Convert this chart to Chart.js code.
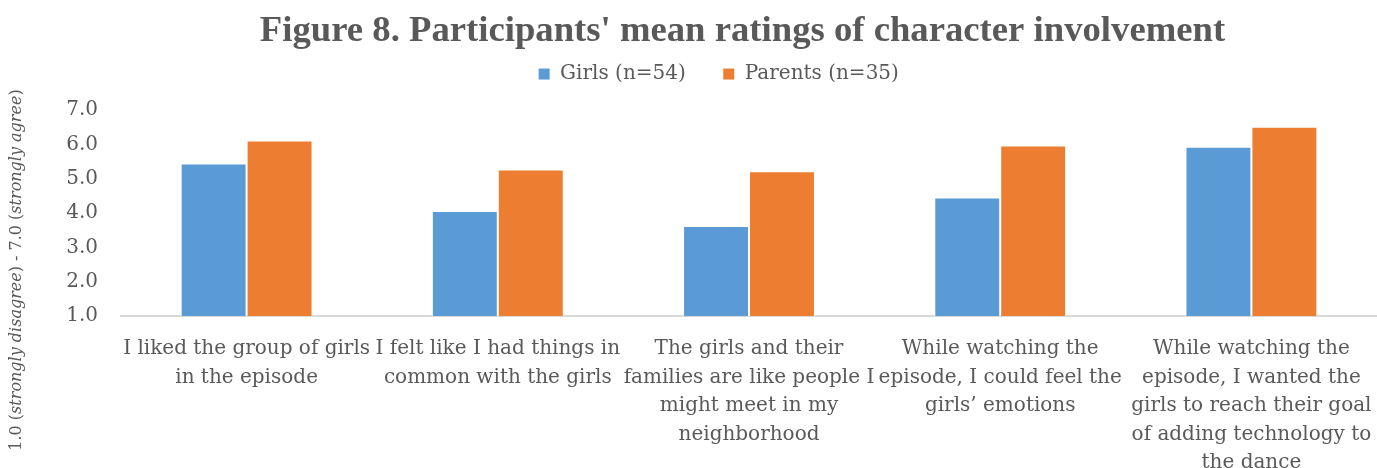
<!DOCTYPE html>
<html>
<head>
<meta charset="utf-8">
<script src="https://cdn.jsdelivr.net/npm/chart.js@4.4.1/dist/chart.umd.min.js"></script>
<style>
  html, body { margin: 0; padding: 0; background: #fff; }
  #wrap { width: 1377px; height: 468px; }
</style>
</head>
<body>
<div id="wrap"><canvas id="ratings-chart"></canvas></div>
<script>
const categories = [
  ['I liked the group of girls', 'in the episode'],
  ['I felt like I had things in', 'common with the girls'],
  ['The girls and their', 'families are like people I', 'might meet in my', 'neighborhood'],
  ['While watching the', 'episode, I could feel the', 'girls\u2019 emotions'],
  ['While watching the', 'episode, I wanted the', 'girls to reach their goal', 'of adding technology to', 'the dance']
];
const girls = [5.44, 4.06, 3.62, 4.45, 5.93];
const parents = [6.11, 5.27, 5.22, 5.97, 6.51];
const seriesNames = ['Girls (n=54)', 'Parents (n=35)'];

const textColor = '#595959';
const serif = "'DejaVu Serif', serif";

// y axis title has italic parts, so draw it by hand
const yTitleParts = [
  ['1.0 (', false],
  ['strongly disagree', true],
  [') - 7.0 (', false],
  ['strongly agree', true],
  [')', false]
];

const yTitlePlugin = {
  id: 'yTitle',
  afterDraw(chart) {
    const c = chart.ctx;
    const size = 16;
    const fonts = p => p[1] ? 'italic ' + size + 'px ' + serif : size + 'px ' + serif;
    let total = 0;
    for (const p of yTitleParts) { c.font = fonts(p); total += c.measureText(p[0]).width; }
    c.save();
    c.translate(17, 270);
    c.rotate(-Math.PI / 2);
    c.fillStyle = textColor;
    c.textBaseline = 'middle';
    c.textAlign = 'left';
    let x = -total / 2;
    for (const p of yTitleParts) {
      c.font = fonts(p);
      c.fillText(p[0], x, 0);
      x += c.measureText(p[0]).width;
    }
    c.restore();
  }
};

// extra room under the legend, and title centred over the plot like the original
const spacingPlugin = {
  id: 'spacing',
  beforeInit(chart) {
    const fit = chart.legend.fit;
    chart.legend.fit = function () {
      fit.bind(chart.legend)();
      this.height += 16;
    };
  },
  afterLayout(chart) {
    const t = chart.titleBlock;
    t.left += 24;
    t.right += 24;
  }
};

const ctx = document.getElementById('ratings-chart');

new Chart(ctx, {
  type: 'bar',
  data: {
    labels: categories,
    datasets: [
      {
        label: seriesNames[0],
        data: girls,
        backgroundColor: '#5B9BD5',
        borderColor: '#ffffff',
        borderWidth: 1,
        categoryPercentage: 0.525,
        barPercentage: 1.0
      },
      {
        label: seriesNames[1],
        data: parents,
        backgroundColor: '#ED7D31',
        borderColor: '#ffffff',
        borderWidth: 1,
        categoryPercentage: 0.525,
        barPercentage: 1.0
      }
    ]
  },
  options: {
    responsive: true,
    maintainAspectRatio: false,
    animation: false,
    layout: { padding: { left: 60, right: 0, top: 0, bottom: 0 } },
    plugins: {
      title: {
        display: true,
        text: "Figure 8. Participants' mean ratings of character involvement",
        color: textColor,
        font: { family: "'Liberation Serif', serif", size: 36.7, weight: 'bold', lineHeight: 1.2 },
        padding: { top: 10, bottom: -27 }
      },
      legend: {
        display: true,
        position: 'top',
        labels: {
          color: textColor,
          font: { family: serif, size: 20 },
          boxWidth: 12,
          boxHeight: 12,
          padding: 37
        }
      },
      tooltip: { enabled: false }
    },
    scales: {
      x: {
        grid: { display: false, drawTicks: true, tickLength: 15 },
        border: { display: true, color: '#D9D9D9', width: 2 },
        // last label line runs off the bottom edge in the original
        afterFit: scale => { scale.height -= 13; },
        ticks: {
          color: textColor,
          font: { family: serif, size: 20, lineHeight: 1.42 },
          autoSkip: false,
          maxRotation: 0,
          padding: 4
        }
      },
      y: {
        min: 1,
        max: 7,
        grid: { display: false, drawTicks: false },
        border: { display: false },
        afterFit: scale => { scale.width = 61; },
        ticks: {
          stepSize: 1,
          color: textColor,
          font: { family: serif, size: 20 },
          padding: 23,
          callback: v => v.toFixed(1)
        }
      }
    }
  },
  plugins: [yTitlePlugin, spacingPlugin]
});
</script>
</body>
</html>
